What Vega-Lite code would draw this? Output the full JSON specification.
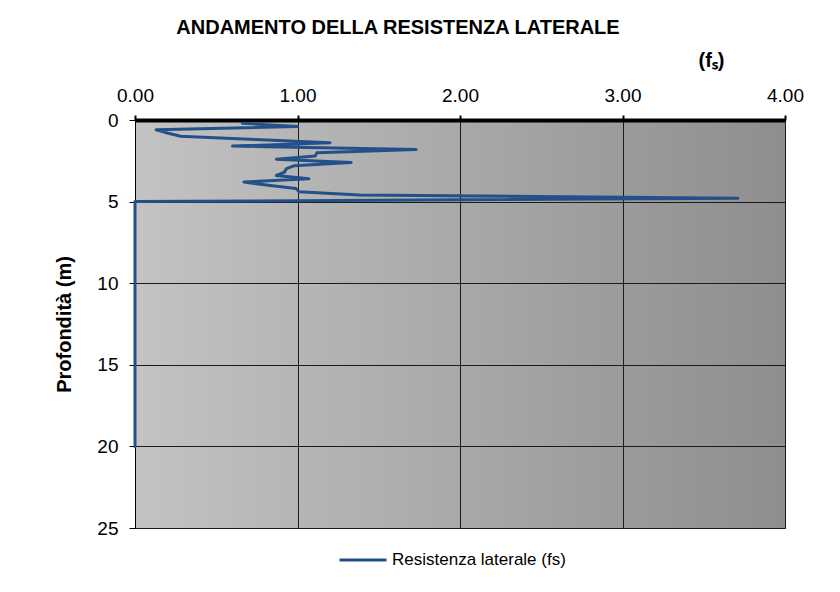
{
  "$schema": "https://vega.github.io/schema/vega-lite/v6.json",
  "width": 650,
  "height": 408,
  "autosize": {"type": "none"},
  "padding": {"left": 135, "top": 120, "right": 55, "bottom": 64},
  "background": "white",
  "title": {
    "text": "ANDAMENTO DELLA RESISTENZA LATERALE",
    "font": "Liberation Sans",
    "fontSize": 20,
    "fontWeight": "bold",
    "color": "black",
    "anchor": "middle",
    "dx": -62,
    "offset": 12
  },
  "data": {
    "values": [
      {"depth": 0.2, "fs": 0.66, "serie": "Resistenza laterale (fs)"},
      {"depth": 0.4, "fs": 1.0, "serie": "Resistenza laterale (fs)"},
      {"depth": 0.6, "fs": 0.13, "serie": "Resistenza laterale (fs)"},
      {"depth": 0.8, "fs": 0.2, "serie": "Resistenza laterale (fs)"},
      {"depth": 1.0, "fs": 0.28, "serie": "Resistenza laterale (fs)"},
      {"depth": 1.2, "fs": 0.74, "serie": "Resistenza laterale (fs)"},
      {"depth": 1.4, "fs": 1.2, "serie": "Resistenza laterale (fs)"},
      {"depth": 1.6, "fs": 0.6, "serie": "Resistenza laterale (fs)"},
      {"depth": 1.8, "fs": 1.73, "serie": "Resistenza laterale (fs)"},
      {"depth": 2.0, "fs": 1.12, "serie": "Resistenza laterale (fs)"},
      {"depth": 2.2, "fs": 1.11, "serie": "Resistenza laterale (fs)"},
      {"depth": 2.4, "fs": 0.87, "serie": "Resistenza laterale (fs)"},
      {"depth": 2.6, "fs": 1.33, "serie": "Resistenza laterale (fs)"},
      {"depth": 2.8, "fs": 0.98, "serie": "Resistenza laterale (fs)"},
      {"depth": 3.0, "fs": 0.93, "serie": "Resistenza laterale (fs)"},
      {"depth": 3.2, "fs": 0.92, "serie": "Resistenza laterale (fs)"},
      {"depth": 3.4, "fs": 0.87, "serie": "Resistenza laterale (fs)"},
      {"depth": 3.6, "fs": 1.07, "serie": "Resistenza laterale (fs)"},
      {"depth": 3.8, "fs": 0.67, "serie": "Resistenza laterale (fs)"},
      {"depth": 4.0, "fs": 0.82, "serie": "Resistenza laterale (fs)"},
      {"depth": 4.2, "fs": 0.99, "serie": "Resistenza laterale (fs)"},
      {"depth": 4.4, "fs": 1.01, "serie": "Resistenza laterale (fs)"},
      {"depth": 4.6, "fs": 1.38, "serie": "Resistenza laterale (fs)"},
      {"depth": 4.8, "fs": 3.71, "serie": "Resistenza laterale (fs)"},
      {"depth": 5.0, "fs": 0.0, "serie": "Resistenza laterale (fs)"},
      {"depth": 10.0, "fs": 0.0, "serie": "Resistenza laterale (fs)"},
      {"depth": 15.0, "fs": 0.0, "serie": "Resistenza laterale (fs)"},
      {"depth": 20.0, "fs": 0.0, "serie": "Resistenza laterale (fs)"}
    ]
  },
  "mark": {"type": "line", "strokeWidth": 3, "strokeJoin": "round", "strokeCap": "round"},
  "encoding": {
    "x": {
      "field": "fs",
      "type": "quantitative",
      "scale": {"domain": [0, 4], "nice": false, "zero": true},
      "axis": {
        "orient": "top",
        "values": [0, 1, 2, 3, 4],
        "format": ".2f",
        "title": "(fₛ)",
        "titleFont": "Liberation Sans",
        "titleFontSize": 20,
        "titleFontWeight": "bold",
        "titleColor": "black",
        "titleAngle": 0,
        "titleAlign": "center",
        "titleBaseline": "middle",
        "titleX": 576,
        "titleY": -60,
        "labelFont": "Liberation Sans",
        "labelFontSize": 19,
        "labelColor": "black",
        "labelPadding": 10,
        "labelFlush": false,
        "domainColor": "black",
        "domainWidth": 4,
        "tickColor": "black",
        "tickSize": 5,
        "tickWidth": 2,
        "grid": true,
        "gridColor": "#1a1a1a",
        "gridWidth": 1,
        "gridOpacity": 1
      }
    },
    "y": {
      "field": "depth",
      "type": "quantitative",
      "scale": {"domain": [0, 25], "nice": false, "reverse": true, "zero": true},
      "axis": {
        "values": [0, 5, 10, 15, 20, 25],
        "title": "Profondità (m)",
        "titleFont": "Liberation Sans",
        "titleFontSize": 20,
        "titleFontWeight": "bold",
        "titleColor": "black",
        "titlePadding": 22,
        "labelFont": "Liberation Sans",
        "labelFontSize": 19,
        "labelColor": "black",
        "labelPadding": 11,
        "labelFlush": false,
        "domainColor": "black",
        "domainWidth": 1,
        "tickColor": "black",
        "tickSize": 6,
        "tickWidth": 1,
        "grid": true,
        "gridColor": "#1a1a1a",
        "gridWidth": 1,
        "gridOpacity": 1
      }
    },
    "color": {
      "field": "serie",
      "type": "nominal",
      "scale": {"range": ["#24508a"]},
      "legend": {
        "title": null,
        "orient": "none",
        "legendX": 203,
        "legendY": 415,
        "symbolType": "stroke",
        "symbolSize": 2209,
        "symbolStrokeWidth": 3,
        "labelFont": "Liberation Sans",
        "labelFontSize": 17,
        "labelColor": "black",
        "labelOffset": 4,
        "labelLimit": 400
      }
    },
    "order": {"field": "depth", "type": "quantitative"}
  },
  "config": {
    "view": {
      "fill": {
        "gradient": "linear",
        "x1": 0, "y1": 0, "x2": 1, "y2": 0,
        "stops": [
          {"offset": 0, "color": "#c3c3c3"},
          {"offset": 1, "color": "#8e8e8e"}
        ]
      },
      "stroke": "#7a7a7a",
      "strokeWidth": 1
    }
  }
}
